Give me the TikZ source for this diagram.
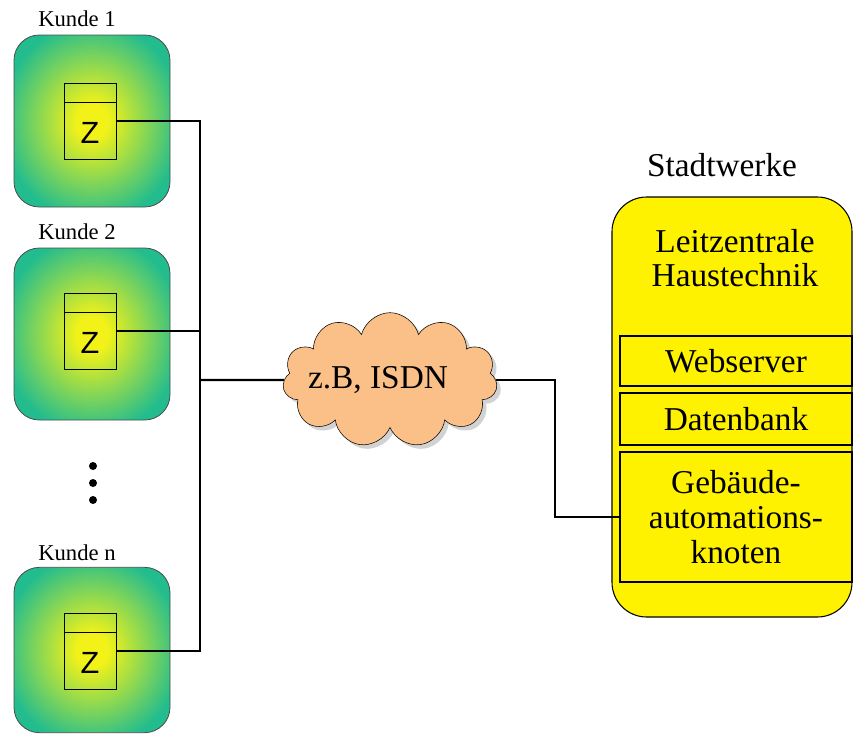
\documentclass[tikz,border=0pt]{standalone}
\usepackage{fontspec}
\setmainfont{Liberation Serif}
\newfontfamily\zfont{Liberation Sans}
\usetikzlibrary{shapes.symbols,shadows}

\definecolor{kundegreen}{RGB}{34,188,142}
\definecolor{kundeyellow}{RGB}{242,242,25}
\definecolor{cloudorange}{RGB}{250,192,135}
\pgfdeclareradialshading{kundeglow}{\pgfpoint{0bp}{0bp}}{color(0bp)=(kundeyellow); color(5bp)=(kundeyellow); color(29bp)=(kundegreen); color(72bp)=(kundegreen)}

\begin{document}
\begin{tikzpicture}[x=0.75pt,y=-0.75pt,
  kundebox/.style={draw=black!70, line width=0.6pt, rounded corners=19pt,
    minimum width=117pt, minimum height=129pt, shading=kundeglow},
  zaehler/.style={draw, line width=0.6pt, minimum width=39pt, minimum height=57pt, inner sep=0pt},
  ztext/.style={font=\zfont\fontsize{23}{23}\selectfont, inner sep=0pt},
  kundelabel/.style={font=\fontsize{17}{20}\selectfont, inner sep=0pt, anchor=west},
  bigtext/.style={font=\fontsize{25}{26}\selectfont, align=center},
  teilbox/.style={draw, fill=yellow, line width=0.8pt, minimum width=174pt, inner sep=0pt,
    font=\fontsize{25}{26}\selectfont, align=center},
  leitung/.style={line width=1.6pt}]
\useasboundingbox (0,0) rectangle (854,733);

% Kunde 1
\node[kundelabel] (k1label) at (38,19) {Kunde 1};
\node[kundebox] (k1) at (92,121) {};
\node[zaehler] (z1) at (90,121) {};
\draw (z1.north west) ++(0,20) -- ++(52,0);
\node[ztext] at (90,133) {Z};

% Kunde 2
\node[kundelabel] (k2label) at (38,232) {Kunde 2};
\node[kundebox] (k2) at (92,334) {};
\node[zaehler] (z2) at (90,331) {};
\draw (z2.north west) ++(0,20) -- ++(52,0);
\node[ztext] at (90,343) {Z};

% dots
\fill (93,466) circle (3pt);
\fill (93,483) circle (3pt);
\fill (93,500) circle (3pt);

% Kunde n
\node[kundelabel] (knlabel) at (38,553) {Kunde n};
\node[kundebox, minimum height=124pt] (kn) at (92,650) {};
\node[zaehler] (zn) at (90,651) {};
\draw (zn.north west) ++(0,20) -- ++(52,0);
\node[ztext] at (90,663) {Z};

% net
\node[cloud, cloud puffs=11, cloud ignores aspect, draw, fill=cloudorange,
  drop shadow={shadow xshift=3pt, shadow yshift=-3pt, fill=black!35},
  minimum width=161pt, minimum height=101pt, font=\fontsize{25}{26}\selectfont] (net) at (390,380) {\hbox to 0pt{\hss z.B, ISDN\hskip 18pt\hss}};

% Stadtwerke
\node[bigtext] (swlabel) at (722,165) {Stadtwerke};
\node[draw, fill=yellow, line width=0.8pt, rounded corners=26pt,
  minimum width=180pt, minimum height=315pt] (sw) at (732,407) {};
\node[bigtext] (leit) at (735,258) {Leitzentrale\\Haustechnik};
\node[teilbox, minimum height=37.5pt] (web) at (736,361) {Webserver};
\node[teilbox, minimum height=39pt] (db) at (736,419) {Datenbank};
\node[teilbox, minimum height=97.5pt] (geb) at (736,517) {Gebäude-\\automations-\\knoten};

% lines
\coordinate (bus) at (200,380);
\draw[leitung] (z1.east) -| (bus);
\draw[leitung] (z2.east) -- (z2.east -| bus);
\draw[leitung] (zn.east) -| (bus);
\draw[leitung] (bus) -- (net.west);
\draw[leitung] (net.east) -- ++(59,0) |- (geb.west);

\end{tikzpicture}
\end{document}
